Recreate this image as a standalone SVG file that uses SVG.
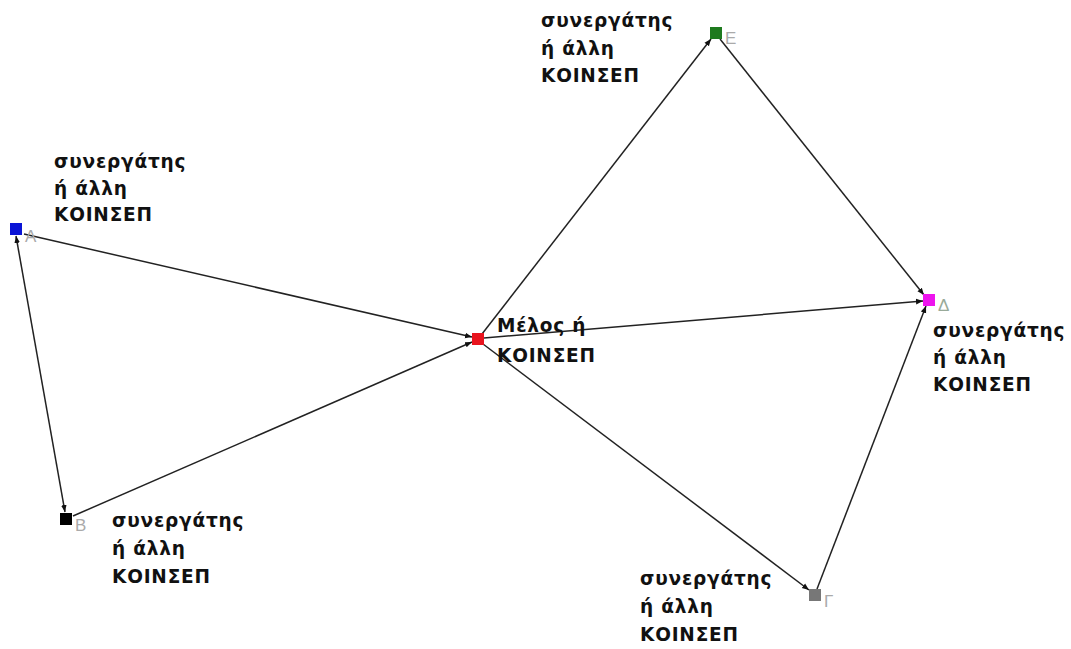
<svg xmlns="http://www.w3.org/2000/svg" width="1071" height="649" viewBox="0 0 1071 649">
<defs>
<marker id="arr" viewBox="0 0 10 10" refX="10" refY="5" markerWidth="7" markerHeight="7" orient="auto-start-reverse" markerUnits="userSpaceOnUse"><path d="M0,1 L10,5 L0,9 z" fill="#111"/></marker>
</defs>
<style>
.e{stroke:#222;stroke-width:1.5;fill:none;marker-end:url(#arr)}
.lbl{font-family:"DejaVu Sans",Verdana,sans-serif;font-weight:bold;font-size:18.5px;fill:#111;letter-spacing:0.8px}
.ltr{font-family:"Liberation Sans",Arial,sans-serif;font-size:17px;fill:#aaa}
</style>
<rect width="1071" height="649" fill="#fff"/>
<g id="edges">
<line class="e" x1="24" y1="234" x2="472" y2="337"/>
<line class="e" x1="73" y1="516" x2="472" y2="342"/>
<line class="e" x1="16" y1="236" x2="65" y2="512" style="marker-start:url(#arr)"/>
<line class="e" x1="482" y1="334" x2="711" y2="39"/>
<line class="e" x1="720" y1="39" x2="924" y2="295"/>
<line class="e" x1="484" y1="338" x2="923" y2="301"/>
<line class="e" x1="483" y1="344" x2="809" y2="590"/>
<line class="e" x1="817" y1="589" x2="926" y2="306"/>
</g>
<g id="node-A"><rect x="10" y="223" width="12" height="12" fill="#0a14d6"/><text class="ltr" x="25" y="242">A</text>
<text class="lbl" x="54" y="168">συνεργάτης</text><text class="lbl" x="54" y="195">ή άλλη</text><text class="lbl" x="54" y="221">ΚΟΙΝΣΕΠ</text></g>
<g id="node-B"><rect x="60" y="513" width="12" height="12" fill="#000"/><text class="ltr" x="75" y="531">B</text>
<text class="lbl" x="112" y="527">συνεργάτης</text><text class="lbl" x="112" y="555">ή άλλη</text><text class="lbl" x="112" y="583">ΚΟΙΝΣΕΠ</text></g>
<g id="node-center"><rect x="472" y="333" width="12" height="12" fill="#e8141e"/>
<text class="lbl" x="497" y="332">Μέλος ή</text><text class="lbl" x="497" y="362">ΚΟΙΝΣΕΠ</text></g>
<g id="node-E"><rect x="710" y="27" width="12" height="12" fill="#1e7a1e"/><text class="ltr" x="725" y="44">Ε</text>
<text class="lbl" x="541" y="27">συνεργάτης</text><text class="lbl" x="541" y="55">ή άλλη</text><text class="lbl" x="541" y="82">ΚΟΙΝΣΕΠ</text></g>
<g id="node-D"><rect x="923" y="294" width="12" height="12" fill="#ee14ee"/><text class="ltr" x="938" y="311" style="fill:#9a9">Δ</text>
<text class="lbl" x="933" y="337">συνεργάτης</text><text class="lbl" x="933" y="364">ή άλλη</text><text class="lbl" x="933" y="391">ΚΟΙΝΣΕΠ</text></g>
<g id="node-G"><rect x="809" y="589" width="12" height="12" fill="#777"/><text class="ltr" x="824" y="607">Γ</text>
<text class="lbl" x="640" y="585">συνεργάτης</text><text class="lbl" x="640" y="613">ή άλλη</text><text class="lbl" x="640" y="641">ΚΟΙΝΣΕΠ</text></g>
</svg>
